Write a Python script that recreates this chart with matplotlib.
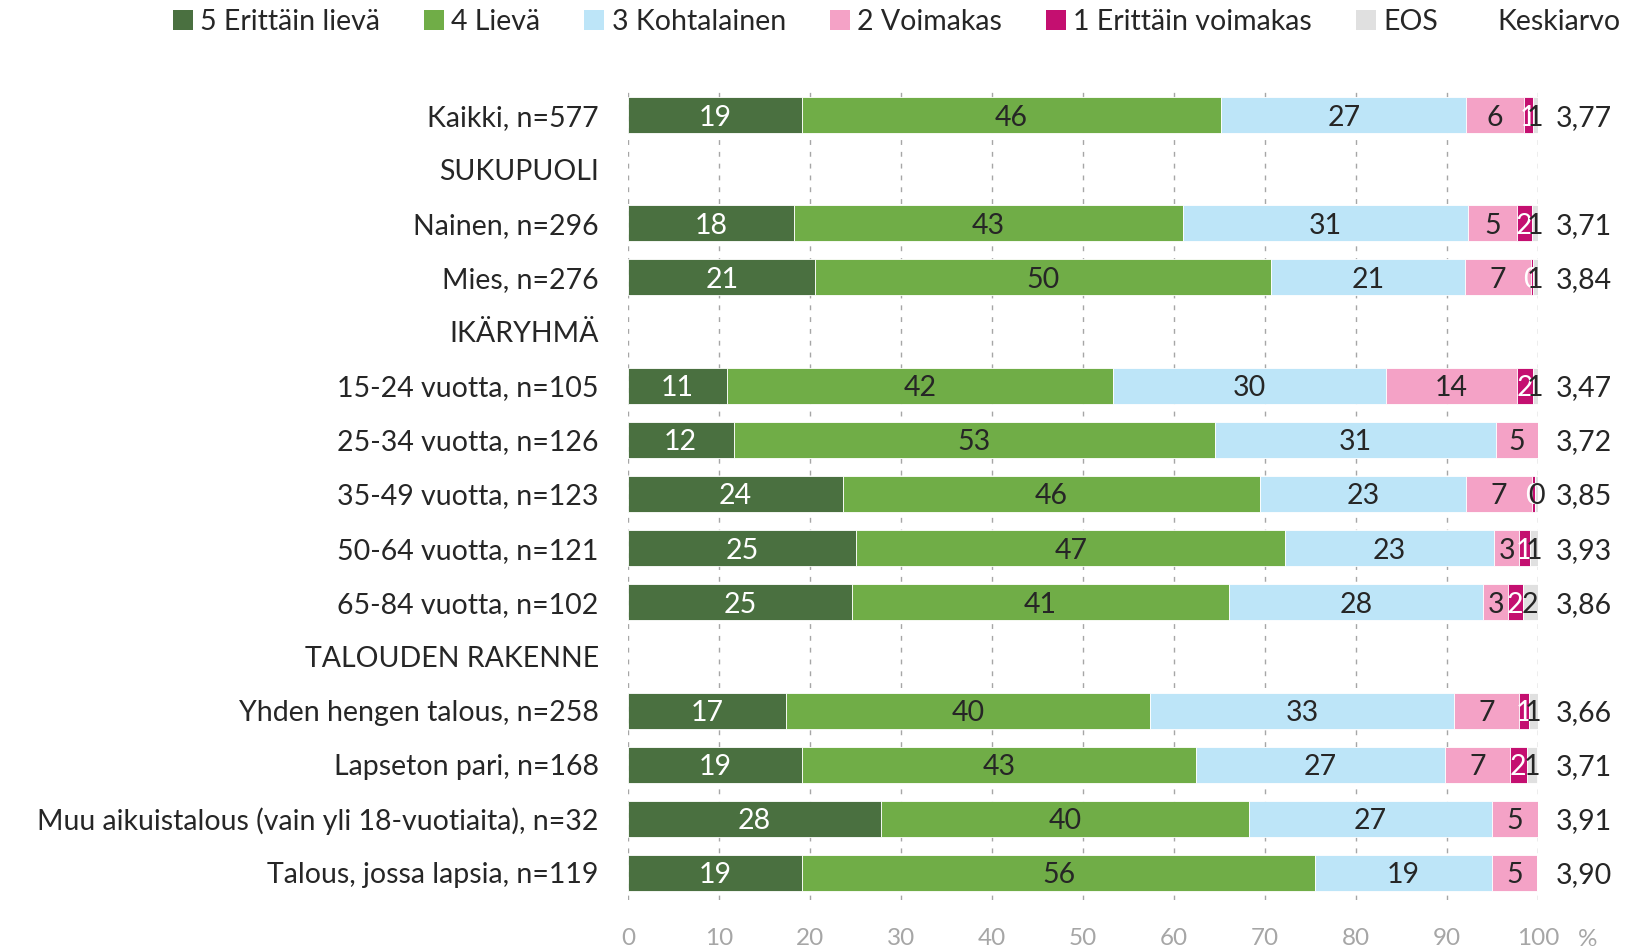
import numpy as np
import matplotlib.pyplot as plt
from matplotlib import rc
from matplotlib.patches import Patch

rc('font', family=['Lato', 'DejaVu Sans'], size=20.5)

rows = [
    'Kaikki, n=577',
    'SUKUPUOLI',
    'Nainen, n=296',
    'Mies, n=276',
    'IKÄRYHMÄ',
    '15-24 vuotta, n=105',
    '25-34 vuotta, n=126',
    '35-49 vuotta, n=123',
    '50-64 vuotta, n=121',
    '65-84 vuotta, n=102',
    'TALOUDEN RAKENNE',
    'Yhden hengen talous, n=258',
    'Lapseton pari, n=168',
    'Muu aikuistalous (vain yli 18-vuotiaita), n=32',
    'Talous, jossa lapsia, n=119',
]
headers = ['SUKUPUOLI', 'IKÄRYHMÄ', 'TALOUDEN RAKENNE']

series_names = ['5 Erittäin lievä', '4 Lievä', '3 Kohtalainen', '2 Voimakas',
                '1 Erittäin voimakas', 'EOS']
s5 = [19.1, 18.2, 20.6, 10.9, 11.6, 23.6, 25.1, 24.6, 17.4, 19.1, 27.8, 19.1]
s4 = [46.1, 42.8, 50.1, 42.4, 52.9, 45.8, 47.1, 41.4, 40.0, 43.3, 40.4, 56.4]
s3 = [26.9, 31.3, 21.3, 30.0, 30.9, 22.7, 23.0, 28.0, 33.4, 27.4, 26.7, 19.4]
s2 = [6.4, 5.4, 7.2, 14.4, 4.6, 7.2, 2.7, 2.7, 7.1, 7.1, 5.1, 5.0]
s1 = [0.9, 1.6, 0.2, 1.7, 0.0, 0.4, 1.2, 1.6, 1.1, 1.9, 0.0, 0.0]
eos = [0.6, 0.7, 0.6, 0.6, 0.0, 0.3, 0.9, 1.7, 1.0, 1.1, 0.0, 0.0]
means = ['3,77', '3,71', '3,84', '3,47', '3,72', '3,85', '3,93', '3,86',
         '3,66', '3,71', '3,91', '3,90']

colors = ['#4a7040', '#70ad47', '#bde5f8', '#f4a2c6', '#c40f70', '#e0e0e0']
txtcolors = ['white', '#262626', '#262626', '#262626', 'white', '#262626']
dark = '#262626'
grey = '#a6a6a6'
fs = 20.5

W, H = 1625, 947
fig = plt.figure(figsize=(W / 100, H / 100), dpi=100)
ax = fig.add_axes([628 / W, 1 - 900 / H, 910 / W, 812 / H])

pos = np.arange(len(rows))
datapos = np.array([p for p, r in zip(pos, rows) if r not in headers])

left = np.zeros(len(datapos))
for vals, c, tc in zip([s5, s4, s3, s2, s1, eos], colors, txtcolors):
    vals = np.array(vals)
    ax.barh(datapos, vals, left=left, height=0.665, color=c,
            edgecolor='white', linewidth=0.6, zorder=2)
    for y, l, v in zip(datapos, left, vals):
        if v > 0:
            ax.text(l + v / 2, y, '%d' % round(v), ha='center',
                    va='center_baseline', color=tc, fontsize=fs, zorder=3)
    left = left + vals

for y, m in zip(datapos, means):
    ax.text(101.9, y, m, ha='left', va='center_baseline', color=dark,
            fontsize=fs, clip_on=False)

ax.set_xlim(0, 100)
ax.set_ylim(len(rows) - 0.5, -0.5)
ax.set_yticks(pos, rows)
ax.set_xticks(np.arange(0, 101, 10))
ax.tick_params(axis='y', length=0, pad=21, labelsize=fs, labelcolor=dark)
ax.tick_params(axis='x', length=0, pad=20, labelsize=17.5, labelcolor=grey)
for s in ax.spines.values():
    s.set_visible(False)
ax.grid(axis='x', color=grey, linestyle=(0, (3.5, 5)), linewidth=1, zorder=0)
ax.set_axisbelow(True)

handles = [Patch(facecolor=c) for c in colors]
fig.legend(handles, series_names, ncol=6, loc='center left',
           bbox_to_anchor=(173 / W, 1 - 22 / H), frameon=False,
           handlelength=0.7, handleheight=0.7, handletextpad=0.25,
           columnspacing=1.55, borderpad=0, borderaxespad=0, fontsize=fs,
           labelcolor=dark)
fig.text(1497 / W, 1 - 22 / H, 'Keskiarvo', ha='left', va='center',
         color=dark, fontsize=fs)
fig.text(1578 / W, 1 - 939 / H, '%', ha='left', va='center', color=grey,
         fontsize=17.5)

fig.savefig('out.png', dpi=100)
